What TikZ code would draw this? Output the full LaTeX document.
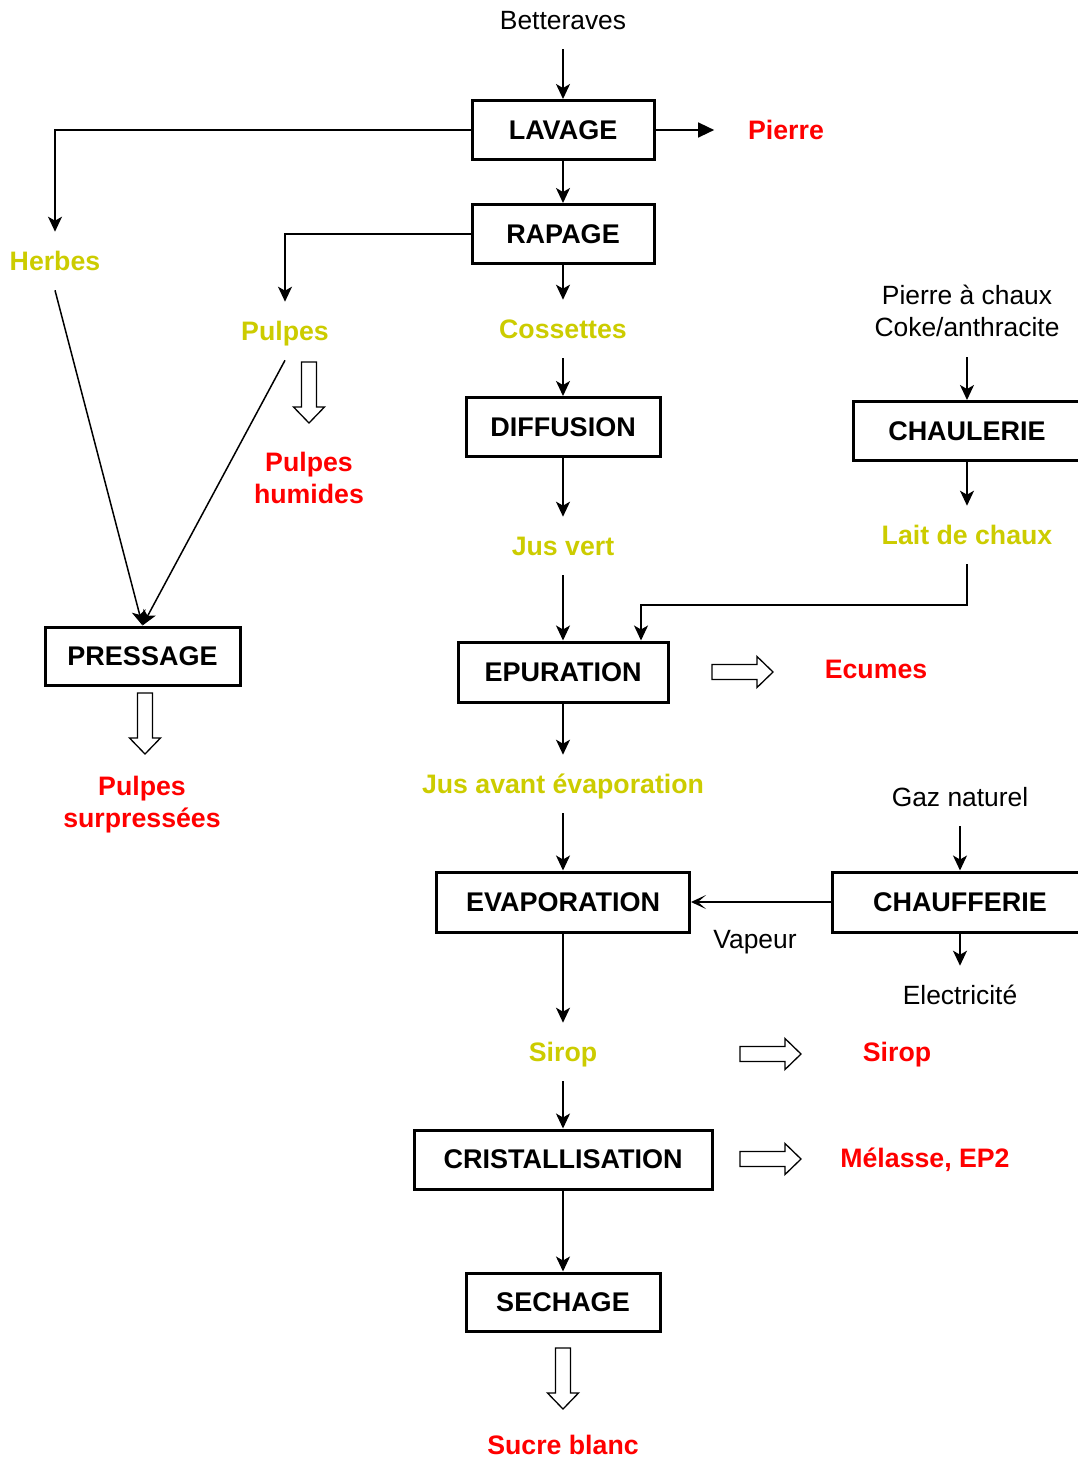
\documentclass[tikz,border=0pt]{standalone}
\usepackage{fontspec}
\setmainfont{Liberation Sans}
\usetikzlibrary{arrows.meta}
\definecolor{jaune}{RGB}{204,204,0}
\definecolor{rouge}{RGB}{255,0,0}
\begin{document}
\begin{tikzpicture}[x=1pt,y=-1pt,
  txt/.style={font=\fontsize{26.4}{32}\selectfont},
  stepbox/.style={draw, line width=3pt, inner sep=0pt, minimum height=59pt,
    font=\fontsize{27}{32}\selectfont\bfseries},
  lbl/.style={txt, inner sep=0pt, text height=18.6pt, text depth=0pt,
    outer ysep=20pt, outer xsep=0pt},
  prod/.style={lbl, text=jaune, font=\fontsize{26.7}{32}\selectfont\bfseries},
  waste/.style={lbl, text=rouge, font=\fontsize{26.7}{32}\selectfont\bfseries},
  waste2/.style={txt, inner sep=0pt, align=center, anchor=north, text=rouge,
    font=\fontsize{26.7}{32}\selectfont\bfseries},
  flow/.style={line width=1.5pt, -{Stealth[length=15pt,width=14pt,inset=4pt]}},
  heat/.style={line width=1.5pt, -{Stealth[length=15pt,width=14pt,inset=8pt]}},
  reject/.style={line width=1.5pt, -{Triangle[length=16pt,width=15pt]}},
  hollowarrow/.pic={\draw[line width=1.3pt, fill=white]
    (0,-7.5) -- (45,-7.5) -- (45,-15.5) -- (61,0) -- (45,15.5) -- (45,7.5) -- (0,7.5) -- cycle;}
]
\useasboundingbox (0,0) rectangle (1077,1458);

% main line
\node[lbl] (bett) at (563,20) {Betteraves};
\node[stepbox, minimum width=182pt] (lav) at (563,130) {LAVAGE};
\node[waste] (pierre) at (786,130) {Pierre};
\node[prod] (herbes) at (55,261) {Herbes};
\node[stepbox, minimum width=182pt] (rap) at (563,234) {RAPAGE};
\node[prod] (pulpes) at (285,331) {Pulpes};
\node[prod] (coss) at (563,329) {Cossettes};
\node[waste2] (phum) at (309,451.7) {Pulpes\\humides};
\node[stepbox, minimum width=194pt] (diff) at (563,427) {DIFFUSION};
\node[prod] (jusv) at (563,546) {Jus vert};
\node[stepbox, minimum width=210pt, minimum height=60pt] (epur) at (563,672) {EPURATION};
\node[waste] (ecumes) at (876,669) {Ecumes};
\node[prod] (jusav) at (563,784) {Jus avant évaporation};
\node[stepbox, minimum width=253pt, minimum height=60pt] (evap) at (563,902) {EVAPORATION};
\node[prod] (sirop) at (563,1052) {Sirop};
\node[waste] (siropr) at (897,1052) {Sirop};
\node[stepbox, minimum width=298pt] (crist) at (563,1159.5) {CRISTALLISATION};
\node[waste] (melasse) at (925,1158) {Mélasse, EP2};
\node[stepbox, minimum width=194pt, minimum height=58pt] (sech) at (563,1302) {SECHAGE};
\node[waste] (sucre) at (563,1445) {Sucre blanc};

% pressing of pulps
\node[stepbox, minimum width=195pt, minimum height=58pt] (press) at (142.5,656) {PRESSAGE};
\node[waste2] (psurp) at (142,775.7) {Pulpes\\surpressées};

% lime kiln
\node[txt, inner sep=0pt, align=center, anchor=north] (chaux) at (967,285) {Pierre à chaux\\Coke/anthracite};
\node[stepbox, minimum width=228pt] (chaul) at (967,431) {CHAULERIE};
\node[prod] (lait) at (967,535) {Lait de chaux};

% boiler house
\node[lbl] (gaz) at (960,797) {Gaz naturel};
\node[stepbox, minimum width=256pt, minimum height=60pt] (chauf) at (960,902) {CHAUFFERIE};
\node[lbl] (vapeur) at (755,939) {Vapeur};
\node[lbl] (elec) at (960,995) {Electricité};

% connectors
\draw[flow] (bett) -- (lav);
\draw[reject, shorten >=34pt] (lav.east) -- (pierre.west);
\draw[flow] (lav.west) -| (herbes.north);
\draw[flow] (lav) -- (rap);
\draw[flow] (rap.west) -| (pulpes.north);
\draw[flow] (rap) -- (coss);
\draw[flow] (coss) -- (diff);
\draw[flow] (diff) -- (jusv);
\draw[flow] (jusv) -- (epur);
\draw[flow] (epur) -- (jusav);
\draw[flow] (jusav) -- (evap);
\draw[flow] (evap) -- (sirop);
\draw[flow] (sirop) -- (crist);
\draw[flow] (crist) -- (sech);

\draw[flow] (herbes.south) -- (press.north);
\draw[flow] (pulpes.south) -- (press.north);

\draw[flow, shorten <=20pt] (chaux.south) -- (chaul);
\draw[flow] (chaul) -- (lait);
\coordinate (coude) at (641,605);
\draw[flow] (lait.south) |- (coude) -- (coude |- epur.north);

\draw[flow] (gaz) -- (chauf);
\draw[heat] (chauf.west) -- (evap.east);
\draw[flow] (chauf) -- (elec);

% product outlets
\pic[rotate=-90] at (309,362) {hollowarrow};
\pic[rotate=-90] at (145,693) {hollowarrow};
\pic[rotate=-90] at (563,1348) {hollowarrow};
\pic at (712,672) {hollowarrow};
\pic at (740,1054) {hollowarrow};
\pic at (740,1159) {hollowarrow};
\end{tikzpicture}
\end{document}
